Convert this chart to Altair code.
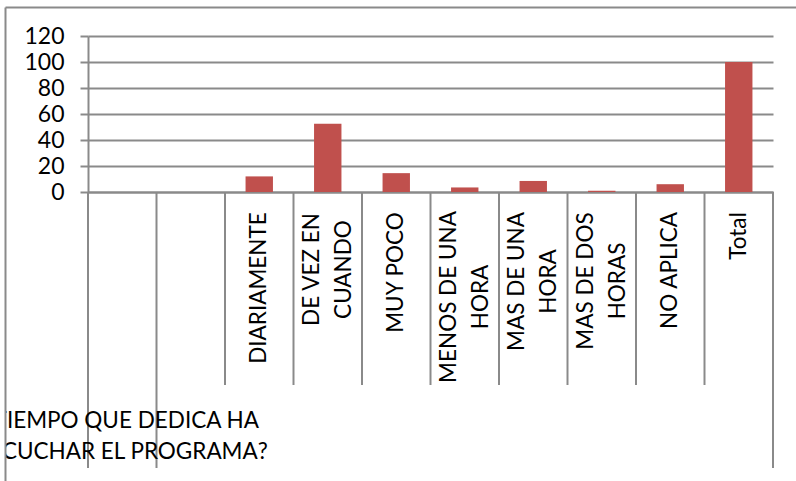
import altair as alt
import pandas as pd

# ---- data ----
categories = [" ", "  ", "DIARIAMENTE", "DE VEZ EN CUANDO", "MUY POCO",
              "MENOS DE UNA HORA", "MAS DE UNA HORA", "MAS DE DOS HORAS",
              "NO APLICA", "Total"]
values = [None, None, 12, 52.5, 14.5, 3.5, 8.5, 1, 6, 100]
label_lines = [[""], [""], ["DIARIAMENTE"], ["DE VEZ EN", "CUANDO"], ["MUY POCO"],
               ["MENOS DE UNA", "HORA"], ["MAS DE UNA", "HORA"], ["MAS DE DOS", "HORAS"],
               ["NO APLICA"], ["Total"]]
y_ticks = [0, 20, 40, 60, 80, 100, 120]
group_label = "¿TIEMPO QUE DEDICA HA\nESCUCHAR EL PROGRAMA?"

# ---- layout / style ----
FONT = "Lato"
GRAY = "#8a8a8a"
BAR = "#C0504D"
W, H = 685, 156
PAD_L, PAD_T = 88, 36
LH = 32
XFS = 22.5
# approximate rendered length (px) of the longest line of each label at XFS
label_len = {"DIARIAMENTE": 151, "DE VEZ EN CUANDO": 114, "MUY POCO": 120,
             "MENOS DE UNA HORA": 169, "MAS DE UNA HORA": 138, "MAS DE DOS HORAS": 137,
             "NO APLICA": 116, "Total": 47}

df = pd.DataFrame({"cat": categories, "val": values})
bars_df = df.dropna()

# label expression: nested conditionals returning arrays of lines
expr = "''"
for c, lines in zip(categories, label_lines):
    arr = "[" + ",".join("'" + l + "'" for l in lines) + "]"
    expr = f"datum.value === '{c}' ? {arr} : ({expr})"
label_expr = expr
two_line = [c for c, l in zip(categories, label_lines) if len(l) > 1]
two_line_test = "indexof([" + ",".join("'" + c + "'" for c in two_line) + "], datum.value) >= 0"

pad_conditions = [{"test": f"datum.value === '{c}'", "value": 20 + w / 2}
                  for c, w in label_len.items()]

x_axis = alt.Axis(
    ticks=False, domain=True, domainColor=GRAY, domainWidth=2,
    labelAngle=270, labelAlign="center", labelBaseline="middle",
    labelPadding={"condition": pad_conditions, "value": 20},
    labelFont=FONT, labelFontSize=XFS,
    labelColor="black", labelLineHeight=LH, labelLimit=400,
    labelOverlap=False, labelBound=False, labelExpr=label_expr,
    labelOffset={"condition": {"test": two_line_test, "value": -LH / 2}, "value": 0},
    grid=False, title=None,
)
xscale = alt.Scale(domain=categories, paddingInner=0, paddingOuter=0)


def X(bp=None):
    if bp is None:
        return alt.X("cat:N", scale=xscale, axis=x_axis, title=None)
    return alt.X("cat:N", scale=xscale, axis=x_axis, title=None, bandPosition=bp)


bars = alt.Chart(bars_df).mark_bar(width=alt.RelativeBandSize(0.4), color=BAR).encode(
    x=X(),
    y=alt.Y("val:Q", scale=alt.Scale(domain=[0, 120]), title=None,
            axis=alt.Axis(values=y_ticks, grid=True, gridColor=GRAY, gridWidth=2,
                          domain=True, domainColor=GRAY, domainWidth=2,
                          tickSize=8, tickColor=GRAY, tickWidth=2,
                          labelFont=FONT, labelFontSize=23, labelColor="black",
                          labelPadding=16)),
)

div_df = pd.DataFrame({"cat": categories})
short_div = alt.Chart(div_df[div_df.index >= 2]).mark_rule(color=GRAY, strokeWidth=2).encode(
    x=X(0), y=alt.value(H), y2=alt.value(349),
)
long_div = alt.Chart(div_df[div_df.index < 2]).mark_rule(color=GRAY, strokeWidth=2).encode(
    x=X(0), y=alt.value(H), y2=alt.value(432),
)
right_div = alt.Chart(div_df[div_df.cat == "Total"]).mark_rule(color=GRAY, strokeWidth=2).encode(
    x=X(1), y=alt.value(H), y2=alt.value(432),
)

grp = alt.Chart(pd.DataFrame({"cat": [categories[0]], "t": [group_label]})).mark_text(
    font=FONT, fontSize=22.5, color="black", align="center", baseline="middle",
    lineBreak="\n", lineHeight=31,
).encode(
    x=X(0.5),
    y=alt.value(385),
    text="t:N",
)

mask = alt.Chart(pd.DataFrame({"k": [0]})).mark_rect(color="white").encode(
    x=alt.value(-PAD_L), x2=alt.value(-PAD_L + 5.5), y=alt.value(-PAD_T), y2=alt.value(460)
)
border_left = alt.Chart(pd.DataFrame({"k": [0]})).mark_rule(color=GRAY, strokeWidth=2).encode(
    x=alt.value(-PAD_L + 5.5), y=alt.value(-PAD_T + 7.5), y2=alt.value(460)
)
border_top = alt.Chart(pd.DataFrame({"k": [0]})).mark_rule(color=GRAY, strokeWidth=2).encode(
    x=alt.value(-PAD_L + 5.5), x2=alt.value(W + 40), y=alt.value(-PAD_T + 7.5)
)

chart = alt.layer(
    short_div, long_div, right_div, bars, grp, mask, border_left, border_top
).properties(
    width=W, height=H,
    autosize=alt.AutoSizeParams(type="none"),
    padding={"left": PAD_L, "top": PAD_T, "right": 796 - PAD_L - W, "bottom": 481 - PAD_T - H},
    background="white",
).configure_view(stroke=None)

chart.save("out.html", embed_options={"renderer": "svg", "actions": False})
